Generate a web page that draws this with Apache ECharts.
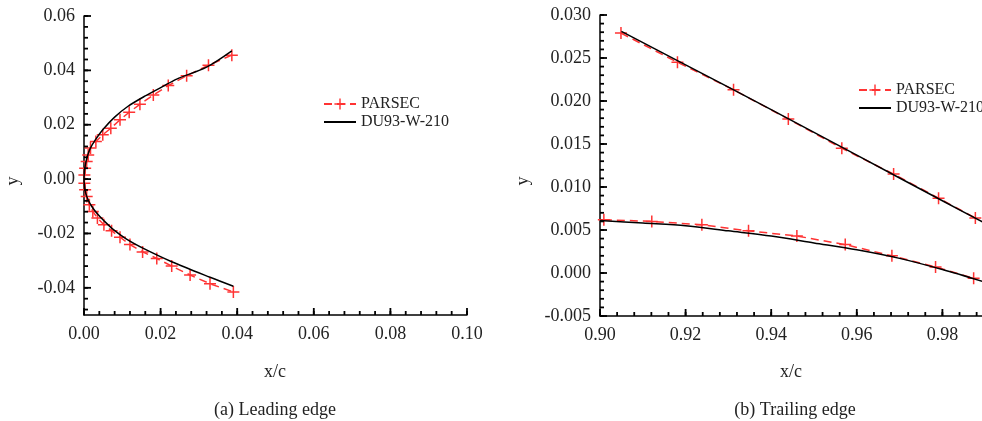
<!DOCTYPE html>
<html>
<head>
<meta charset="utf-8">
<script src="https://cdn.jsdelivr.net/npm/echarts@6/dist/echarts.min.js"></script>
<style>
html, body { margin: 0; padding: 0; background: #fff; }
#grafico { width: 982px; height: 421px; }
</style>
</head>
<body>
<div id="grafico"></div>
<script>
// (a) bordo de ataque - pontos [x/c, y], do extradorso ao intradorso
var leadParsec = [
    [0.0386, 0.0456], [0.0325, 0.0419], [0.0268, 0.0380], [0.0220, 0.0344], [0.0181, 0.0309],
    [0.0146, 0.0275], [0.0118, 0.0246], [0.0094, 0.0218], [0.0070, 0.0187], [0.0049, 0.0163],
    [0.0031, 0.0138], [0.0017, 0.0114], [0.0011, 0.0089], [0.0007, 0.0065], [0.0003, 0.0040],
    [0.0001, 0.0015], [0.0001, -0.0015], [0.0003, -0.0039], [0.0007, -0.0064], [0.0014, -0.0094],
    [0.0023, -0.0119], [0.0035, -0.0143], [0.0052, -0.0168], [0.0072, -0.0190], [0.0094, -0.0214],
    [0.0120, -0.0241], [0.0153, -0.0268], [0.0190, -0.0292], [0.0229, -0.0320], [0.0277, -0.0353],
    [0.0329, -0.0385], [0.0390, -0.0415]
];
var leadDu93 = [
    [0.0386, 0.0472], [0.0320, 0.0412], [0.0242, 0.0368], [0.0205, 0.0340], [0.0160, 0.0306],
    [0.0115, 0.0268], [0.0080, 0.0228], [0.0050, 0.0183], [0.0030, 0.0145], [0.0016, 0.0112],
    [0.0008, 0.0080], [0.0003, 0.0048], [0.0001, 0.0025], [0.0000, 0.0000], [0.0001, -0.0022],
    [0.0004, -0.0050], [0.0011, -0.0077], [0.0020, -0.0100], [0.0033, -0.0125], [0.0052, -0.0153],
    [0.0077, -0.0186], [0.0110, -0.0220], [0.0155, -0.0255], [0.0229, -0.0304], [0.0329, -0.0361],
    [0.0390, -0.0394]
];

// (b) bordo de fuga
var trailParsecUpper = [
    [0.9049, 0.0279], [0.9181, 0.0245], [0.9312, 0.0213], [0.9440, 0.0179],
    [0.9565, 0.0145], [0.9686, 0.0115], [0.9791, 0.0087], [0.9877, 0.0064]
];
var trailParsecLower = [
    [0.9009, 0.0062], [0.9121, 0.0060], [0.9238, 0.0056], [0.9347, 0.0049], [0.9460, 0.0043],
    [0.9573, 0.0033], [0.9682, 0.0020], [0.9784, 0.0007], [0.9873, -0.0006]
];
var trailDu93Upper = [
    [0.905, 0.0281], [0.920, 0.0242], [0.940, 0.0190], [0.960, 0.0137], [0.980, 0.0084], [0.9895, 0.0059]
];
var trailDu93Lower = [
    [0.900, 0.0061], [0.910, 0.0058], [0.920, 0.0055], [0.930, 0.0049], [0.940, 0.0043],
    [0.950, 0.0035], [0.960, 0.0027], [0.970, 0.0017], [0.980, 0.0004], [0.9895, -0.0010]
];

var nomes = ['PARSEC', 'DU93-W-210'];
var fonte = 'Liberation Serif';
var vermelho = '#f33';
var cruz = 'path://M0,5.25H12V6.75H0Z M5.25,0H6.75V12H5.25Z';

// valores dos tracos (ticks) - maiores e menores
function passos(ini, fim, passo) {
    var v = [];
    var n = Math.round((fim - ini) / passo);
    for (var i = 0; i <= n; i++) v.push(+(ini + i * passo).toFixed(4));
    return v;
}
var ticksX0 = passos(0, 0.10, 0.02), minorX0 = passos(0, 0.10, 0.004);
var ticksY0 = passos(-0.04, 0.06, 0.02), minorY0 = passos(-0.048, 0.06, 0.004);
var ticksX1 = passos(0.90, 1.00, 0.02), minorX1 = passos(0.90, 1.00, 0.004);
var ticksY1 = passos(-0.005, 0.030, 0.005), minorY1 = passos(-0.005, 0.030, 0.001);

function serieParsec(dados, eixo) {
    return {
        name: nomes[0],
        type: 'line',
        xAxisIndex: eixo,
        yAxisIndex: eixo,
        data: dados,
        symbol: cruz,
        symbolSize: 12,
        symbolKeepAspect: true,
        itemStyle: { color: vermelho, borderWidth: 0 },
        lineStyle: { color: vermelho, width: 1.5, type: [8, 5] },
        z: 2
    };
}

function serieDu93(dados, eixo) {
    return {
        name: nomes[1],
        type: 'line',
        xAxisIndex: eixo,
        yAxisIndex: eixo,
        data: dados,
        showSymbol: false,
        symbol: 'circle',
        smooth: 0.3,
        itemStyle: { color: 'rgba(0,0,0,0)' }, // sem bolinha na legenda
        lineStyle: { color: '#000', width: 1.5 },
        z: 3
    };
}

// tracos para dentro do grafico: serie de dispersao com simbolo de traco,
// posicionada pela escala do eixo
var esp = 1.8;
function tracoX(tam) { return 'path://M0,0H' + esp + 'V' + tam + 'H0Z'; }
function tracoY(tam) { return 'path://M0,0H' + tam + 'V' + esp + 'H0Z'; }

function serieTracos(eixo, valores, xFixo, yFixo, vertical, tam) {
    var dados = valores.map(function (v) { return vertical ? [v, yFixo] : [xFixo, v]; });
    return {
        type: 'scatter',
        xAxisIndex: eixo,
        yAxisIndex: eixo,
        silent: true,
        clip: false,
        z: 4,
        data: dados,
        symbol: vertical ? tracoX(tam) : tracoY(tam),
        symbolSize: vertical ? [esp, tam] : [tam, esp],
        symbolOffset: vertical ? [0, -tam / 2] : [tam / 2, 0],
        itemStyle: { color: '#000', opacity: 1 },
        emphasis: { disabled: true }
    };
}

// eixo: linha + rotulos
function eixo(idx, min, max, casas, tipo) {
    return {
        type: 'value',
        gridIndex: idx,
        min: min,
        max: max,
        axisLine: { show: true, onZero: false, lineStyle: { color: '#000', width: 1.5 } },
        axisTick: { show: false },
        minorTick: { show: false },
        splitLine: { show: false },
        axisLabel: {
            color: '#222',
            fontFamily: fonte,
            fontSize: 18,
            margin: tipo == 'x' ? 10 : 9,
            formatter: function (v) { return v.toFixed(casas); }
        }
    };
}

function texto(txt, x, y, rot) {
    return {
        type: 'text',
        x: x,
        y: y,
        rotation: rot || 0,
        style: {
            text: txt,
            fill: '#222',
            font: '18px "' + fonte + '"',
            align: 'center',
            verticalAlign: 'middle'
        }
    };
}

var myChart = echarts.init(document.getElementById('grafico'));

var eixoX0 = eixo(0, 0, 0.10, 2, 'x');
eixoX0.interval = 0.02;
var eixoY0 = eixo(0, -0.05, 0.06, 2, 'y');
eixoY0.axisLabel.customValues = ticksY0;
var eixoX1 = eixo(1, 0.90, 1.00, 2, 'x');
eixoX1.interval = 0.02;
var eixoY1 = eixo(1, -0.005, 0.030, 3, 'y');
eixoY1.interval = 0.005;

var series_grafico = [];
series_grafico.push(serieParsec(leadParsec, 0));
series_grafico.push(serieDu93(leadDu93, 0));
series_grafico.push(serieParsec(trailParsecUpper, 1));
series_grafico.push(serieParsec(trailParsecLower, 1));
series_grafico.push(serieDu93(trailDu93Upper, 1));
series_grafico.push(serieDu93(trailDu93Lower, 1));
// tracos maiores (7 px) e menores (4 px)
series_grafico.push(serieTracos(0, ticksX0, 0, -0.05, true, 7));
series_grafico.push(serieTracos(0, minorX0, 0, -0.05, true, 4));
series_grafico.push(serieTracos(0, ticksY0, 0, -0.05, false, 7));
series_grafico.push(serieTracos(0, minorY0, 0, -0.05, false, 4));
series_grafico.push(serieTracos(1, ticksX1, 0.90, -0.005, true, 7));
series_grafico.push(serieTracos(1, minorX1, 0.90, -0.005, true, 4));
series_grafico.push(serieTracos(1, ticksY1, 0.90, -0.005, false, 7));
series_grafico.push(serieTracos(1, minorY1, 0.90, -0.005, false, 4));

var legenda = {
    data: nomes,
    orient: 'vertical',
    itemWidth: 32,
    itemHeight: 14,
    itemGap: 2,
    selectedMode: false,
    textStyle: { fontFamily: fonte, fontSize: 16, color: '#222' }
};

var option = {
    animation: false,
    backgroundColor: '#fff',
    grid: [
        { left: 84, top: 16, width: 383, height: 299, outerBoundsMode: 'none' },
        { left: 600, top: 15, width: 428, height: 301, outerBoundsMode: 'none' }
    ],
    xAxis: [eixoX0, eixoX1],
    yAxis: [eixoY0, eixoY1],
    legend: [
        Object.assign({}, legenda, { left: 318, top: 91 }),
        Object.assign({}, legenda, { left: 853, top: 77 })
    ],
    graphic: [
        texto('y', 13, 181, Math.PI / 2),
        texto('y', 523, 181, Math.PI / 2),
        texto('x/c', 275, 372),
        texto('x/c', 791, 372),
        texto('(a) Leading edge', 275, 410),
        texto('(b) Trailing edge', 795, 410)
    ],
    series: series_grafico
};

myChart.setOption(option);
</script>
</body>
</html>
